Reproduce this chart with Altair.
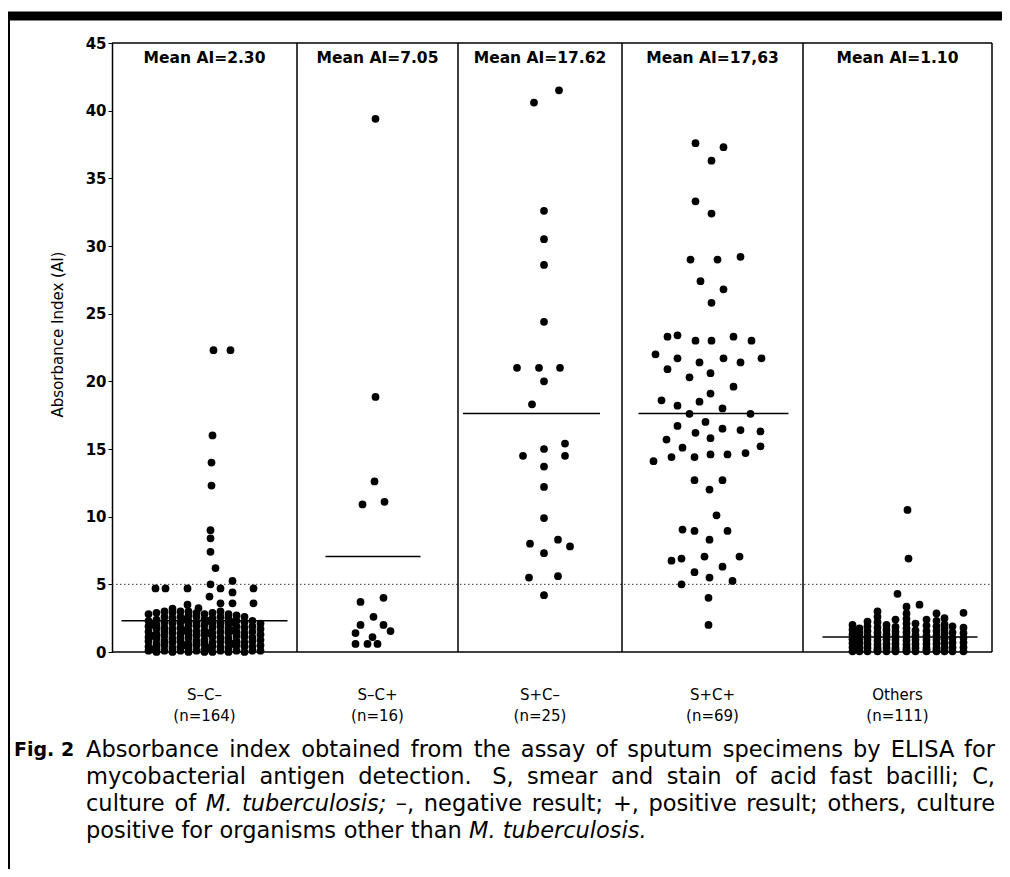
import altair as alt
import pandas as pd

W, H = 880, 609

# ---------------- data ----------------
GROUPS = ["S–C–", "S–C+", "S+C–", "S+C+", "Others"]
N_LABELS = ["(n=164)", "(n=16)", "(n=25)", "(n=69)", "(n=111)"]
MEAN_VALUES = [2.30, 7.05, 17.62, 17.63, 1.10]
MEAN_LABELS = ["Mean AI=2.30", "Mean AI=7.05", "Mean AI=17.62", "Mean AI=17,63", "Mean AI=1.10"]
PANEL_EDGES = [0, 185, 346, 510, 691, 880]
MEAN_SPAN_LEFT = [-83, -52, -77, -74, -75]
MEAN_SPAN_RIGHT = [83, 43, 60, 76, 80]
Y_TICKS = [0, 5, 10, 15, 20, 25, 30, 35, 40, 45]
CUTOFF = [5]
FRAME_VALUES = [0, 45]

# S-C- : scattered points above the dense block
smn_values = [22.3, 22.3, 16.0, 14.0, 12.3, 9.0, 8.4, 7.4, 6.2, 5.0, 5.25, 4.7, 4.7, 4.7, 4.7, 4.7,
              4.1, 4.4, 3.6, 3.6, 3.6, 3.5, 3.25]
smn_jitter = [9, 26, 8, 7, 7, 6, 6, 6, 11, 6, 28, -49, -39, -17, 16, 49,
              5, 28, 16, 28, 49, -17, -6]
# S-C- : dense block, stacked by column (jitter -> values)
smn_block = {
    -56: [0.1, 0.4, 0.8, 1.1, 1.5, 1.9, 2.3, 2.8],
    -52: [0.2, 1.2, 2.0],
    -48: [0.0, 0.3, 0.6, 1.0, 1.3, 1.7, 2.0, 2.4, 2.9],
    -40: [0.1, 0.5, 0.8, 1.2, 1.5, 1.8, 2.2, 2.6, 3.0],
    -32: [0.0, 0.3, 0.7, 1.0, 1.4, 1.7, 2.1, 2.5, 2.9, 3.2],
    -24: [0.1, 0.4, 0.8, 1.1, 1.4, 1.8, 2.2, 2.6, 3.0],
    -20: [0.5, 1.6, 2.4],
    -16: [0.0, 0.3, 0.6, 1.0, 1.3, 1.6, 2.0, 2.3, 2.7, 3.0],
    -8: [0.1, 0.5, 0.8, 1.2, 1.5, 1.9, 2.2, 2.6, 2.9],
    0: [0.0, 0.2, 0.6, 0.9, 1.3, 1.6, 2.0, 2.4, 2.8],
    4: [0.3, 1.4, 2.3],
    8: [0.0, 0.4, 0.7, 1.1, 1.4, 1.8, 2.1, 2.5, 2.9],
    16: [0.1, 0.4, 0.8, 1.1, 1.5, 1.9, 2.2, 2.6, 3.0],
    24: [0.0, 0.3, 0.7, 1.0, 1.4, 1.7, 2.1, 2.5, 2.8],
    28: [0.6, 1.6, 2.2],
    32: [0.1, 0.5, 0.8, 1.2, 1.5, 1.9, 2.3, 2.7],
    40: [0.0, 0.4, 0.7, 1.1, 1.4, 1.8, 2.2, 2.6],
    48: [0.1, 0.4, 0.8, 1.1, 1.5, 1.9, 2.3],
    56: [0.1, 0.5, 0.9, 1.3, 1.7, 2.1],
}

smp_values = [39.4, 18.85, 12.6, 10.9, 11.1, 4.0, 3.7, 2.6, 2.0, 2.0, 1.55, 1.4, 1.1, 0.6, 0.6, 0.6]
smp_jitter = [-2, -2, -3, -15, 7, 6, -17, -4, -17, 6, 13, -22, -5, -22, -10, 0]

spn_values = [41.5, 40.6, 32.6, 30.5, 28.6, 24.4, 21.0, 21.0, 21.0, 20.0, 18.3, 15.4, 15.0,
              14.5, 14.5, 13.7, 12.2, 9.9, 8.3, 8.0, 7.8, 7.3, 5.5, 5.6, 4.2]
spn_jitter = [19, -6, 4, 4, 4, 4, -23, -1, 20, 4, -8, 25, 4,
              -17, 25, 4, 4, 4, 18, -10, 30, 4, -11, 18, 4]

spp_values = [37.6, 37.3, 36.3, 33.3, 32.4, 29.0, 29.0, 29.2, 27.4, 26.8, 25.8,
              23.3, 23.4, 23.0, 23.0, 23.3, 23.0,
              22.0, 21.7, 21.4, 21.7, 21.4, 21.7,
              20.9, 20.3, 20.6, 19.6, 19.1,
              18.6, 18.2, 18.5, 18.0, 17.6, 17.6, 17.0,
              16.7, 16.5, 16.4, 16.3, 16.2, 15.7, 15.8, 15.1, 15.2,
              14.1, 14.4, 14.4, 14.6, 14.6, 14.7,
              12.7, 12.7, 12.0, 10.1, 9.05, 8.95, 8.95, 8.3,
              6.75, 6.9, 7.05, 7.05, 5.9, 6.3, 5.5, 5.25, 5.0, 4.0, 2.0]
spp_jitter = [-17, 11, -1, -17, -1, -22, 5, 28, -12, 11, -1,
              -45, -35, -17, -1, 21, 39,
              -57, -35, -13, 11, 28, 49,
              -45, -23, -2, 21, -2,
              -51, -35, -13, 10, -23, 38, -7,
              -35, 10, 28, 48, -17, -46, -2, -30, 48,
              -59, -41, -18, -2, 15, 33,
              -18, 10, -3, 4, -30, -18, 15, -3,
              -41, -31, -8, 27, -18, 10, -3, 20, -31, -4, -4]

oth_values = [10.5, 6.9, 4.3, 3.5]
oth_jitter = [10, 11, 0, 22]
oth_block = {
    -45: [0.05, 0.35, 0.65, 0.95, 1.3, 1.65, 2.0],
    -38: [0.05, 0.35, 0.7, 1.05, 1.4, 1.75],
    -30: [0.05, 0.3, 0.6, 0.9, 1.2, 1.55, 1.9, 2.25],
    -20: [0.05, 0.15, 0.3, 0.55, 0.85, 1.15, 1.45, 1.8, 2.2, 2.6, 3.0],
    -11: [0.05, 0.3, 0.6, 0.95, 1.3, 1.65, 2.0],
    -2: [0.05, 0.15, 0.3, 0.6, 0.9, 1.2, 1.5, 1.85, 2.4],
    9: [0.05, 0.15, 0.3, 0.55, 0.85, 1.15, 1.45, 1.75, 2.1, 2.45, 2.85, 3.35],
    18: [0.05, 0.3, 0.6, 0.9, 1.25, 1.6, 2.1],
    29: [0.05, 0.15, 0.3, 0.6, 0.9, 1.2, 1.55, 1.95, 2.4],
    39: [0.05, 0.15, 0.3, 0.6, 0.9, 1.2, 1.55, 1.9, 2.3, 2.85],
    47: [0.05, 0.3, 0.65, 1.0, 1.35, 1.7, 2.05, 2.5],
    55: [0.05, 0.35, 0.7, 1.05, 1.45, 1.9],
    66: [0.05, 0.35, 0.7, 1.05, 1.4, 1.8, 2.9],
}

CAPTION_LINES = [
    [("Absorbance", 0), ("index", 0), ("obtained", 0), ("from", 0), ("the", 0), ("assay", 0), ("of", 0),
     ("sputum", 0), ("specimens", 0), ("by", 0), ("ELISA", 0), ("for", 0)],
    [("mycobacterial", 0), ("antigen", 0), ("detection. ", 0), ("S,", 0), ("smear", 0), ("and", 0),
     ("stain", 0), ("of", 0), ("acid", 0), ("fast", 0), ("bacilli;", 0), ("C,", 0)],
    [("culture", 0), ("of", 0), ("M.", 1), ("tuberculosis;", 1), ("–,", 0), ("negative", 0), ("result;", 0),
     ("+,", 0), ("positive", 0), ("result;", 0), ("others,", 0), ("culture", 0)],
    [("positive", 0), ("for", 0), ("organisms", 0), ("other", 0), ("than", 0), ("M.", 1), ("tuberculosis.", 1)],
]
CAPTION_JUSTIFIED = [True, True, True, False]
FIG_LABEL = "Fig. 2"

# ---------------- build tables ----------------
centers = [(PANEL_EDGES[i] + PANEL_EDGES[i + 1]) / 2 for i in range(5)]
rows = []


def add(gi, jit, vals):
    for j, v in zip(jit, vals):
        rows.append({"group": GROUPS[gi], "x": centers[gi] + j, "value": v})


add(0, smn_jitter, smn_values)
for j, vals in smn_block.items():
    add(0, [j] * len(vals), vals)
add(1, smp_jitter, smp_values)
add(2, spn_jitter, spn_values)
add(3, spp_jitter, spp_values)
add(4, oth_jitter, oth_values)
for j, vals in oth_block.items():
    add(4, [j] * len(vals), vals)
points = pd.DataFrame(rows)

means = pd.DataFrame({
    "group": GROUPS,
    "x1": [c + l for c, l in zip(centers, MEAN_SPAN_LEFT)],
    "x2": [c + r for c, r in zip(centers, MEAN_SPAN_RIGHT)],
    "value": MEAN_VALUES,
    "label": MEAN_LABELS,
    "xc": centers,
    "n": N_LABELS,
})
cutoff = pd.DataFrame({"x1": [PANEL_EDGES[0]], "x2": [PANEL_EDGES[-1]], "value": CUTOFF})
edges = pd.DataFrame({"edge": PANEL_EDGES[1:]})
frame_h = pd.DataFrame({"x1": [PANEL_EDGES[0]] * len(FRAME_VALUES),
                        "x2": [PANEL_EDGES[-1]] * len(FRAME_VALUES),
                        "value": FRAME_VALUES})

# caption word layout (DejaVu Sans advance widths, em units)
DV = {' ': .318, 'a': .613, 'b': .635, 'c': .550, 'd': .635, 'e': .615, 'f': .352, 'g': .635,
      'h': .634, 'i': .278, 'j': .278, 'k': .579, 'l': .278, 'm': .974, 'n': .634, 'o': .612,
      'p': .635, 'q': .635, 'r': .411, 's': .521, 't': .392, 'u': .634, 'v': .592, 'w': .818,
      'x': .592, 'y': .592, 'z': .525, 'A': .684, 'C': .698, 'E': .632, 'I': .295, 'L': .557,
      'M': .863, 'S': .635, '.': .318, ',': .318, ';': .337, '–': .5, '+': .838}
CAP_FS = 22.5
CAP_X0, CAP_X1 = -26, 883
CAP_Y0, CAP_DY = 707, 27


def tw(s):
    return sum(DV.get(ch, 0.6) for ch in s) * CAP_FS


cap_rows = []
for li, (words, just) in enumerate(zip(CAPTION_LINES, CAPTION_JUSTIFIED)):
    y = CAP_Y0 + li * CAP_DY
    widths = [tw(w) for w, _ in words]
    if just:
        gap = (CAP_X1 - CAP_X0 - sum(widths)) / (len(words) - 1)
    else:
        gap = tw(" ")
    x = CAP_X0
    for k, ((w, it), wd) in enumerate(zip(words, widths)):
        last = just and k == len(words) - 1
        cap_rows.append({"word": w.strip(), "px": CAP_X1 if last else x, "py": y,
                         "style": "italic" if it else "normal", "right": last})
        x += wd + gap
caption = pd.DataFrame(cap_rows)
fig_df = pd.DataFrame({"word": [FIG_LABEL], "px": [-98], "py": [CAP_Y0]})

# ---------------- chart ----------------
XS = alt.Scale(domain=[PANEL_EDGES[0], PANEL_EDGES[-1]], nice=False, zero=False)
YS = alt.Scale(domain=[0, 45], nice=False)
Y_AXIS = alt.Axis(values=Y_TICKS, title="Absorbance Index (AI)", grid=False,
                  domainColor="black", domainWidth=1.5, tickColor="black", tickSize=4,
                  labelFont="DejaVu Sans", labelFontWeight="bold", labelFontSize=15,
                  labelColor="black", labelPadding=2,
                  titleFont="DejaVu Sans", titleFontWeight="normal", titleFontSize=15,
                  titleColor="black", titleX=-55, titleY=291, titleAngle=270,
                  titleAlign="center", titleBaseline="middle")


def xq(f):
    return alt.X(f, type="quantitative", scale=XS, axis=None)


def yq():
    return alt.Y("value:Q", scale=YS, axis=Y_AXIS)


dots = alt.Chart(points).mark_circle(size=60, color="black", opacity=1).encode(x=xq("x"), y=yq())

mean_lines = alt.Chart(means).mark_rule(color="black", strokeWidth=1.5).encode(
    x=xq("x1"), x2="x2", y=yq())

cut_line = alt.Chart(cutoff).mark_rule(color="#333333", strokeWidth=1, strokeDash=[1.5, 2.5]).encode(
    x=xq("x1"), x2="x2", y=yq())

hframe = alt.Chart(frame_h).mark_rule(color="black", strokeWidth=1.5).encode(
    x=xq("x1"), x2="x2", y=yq())

dividers = alt.Chart(edges).mark_rule(color="black", strokeWidth=1.5).encode(
    x=xq("edge"), y=alt.value(0), y2=alt.value(H))

mean_text = alt.Chart(means).mark_text(font="DejaVu Sans", fontWeight="bold", fontSize=15.5,
                                       color="black", baseline="middle").encode(
    x=xq("xc"), y=alt.value(15), text="label:N")

cat_text = alt.Chart(means).mark_text(font="DejaVu Sans", fontSize=15, color="black",
                                      baseline="middle").encode(
    x=xq("xc"), y=alt.value(H + 43), text="group:N")

n_text = alt.Chart(means).mark_text(font="DejaVu Sans", fontSize=15, color="black",
                                    baseline="middle").encode(
    x=xq("xc"), y=alt.value(H + 64), text="n:N")

cap_enc = dict(x=alt.X("px:Q", scale=None), y=alt.Y("py:Q", scale=None), text="word:N")
cap_left_n = alt.Chart(caption).mark_text(font="DejaVu Sans", fontSize=CAP_FS, color="black",
                                          baseline="middle", align="left").transform_filter(
    "!datum.right && datum.style == 'normal'").encode(**cap_enc)
cap_left_i = alt.Chart(caption).mark_text(font="DejaVu Sans", fontSize=CAP_FS, color="black",
                                          baseline="middle", align="left", fontStyle="italic").transform_filter(
    "!datum.right && datum.style == 'italic'").encode(**cap_enc)
cap_right = alt.Chart(caption).mark_text(font="DejaVu Sans", fontSize=CAP_FS, color="black",
                                         baseline="middle", align="right").transform_filter(
    "datum.right").encode(**cap_enc)
fig_text = alt.Chart(fig_df).mark_text(font="DejaVu Sans", fontSize=19, fontWeight="bold",
                                       color="black", baseline="middle", align="left").encode(**cap_enc)

top_bar = alt.Chart(edges.head(1)).mark_rule(color="black", strokeWidth=9).encode(
    x=alt.value(-104), x2=alt.value(W + 12), y=alt.value(-27))
left_line = alt.Chart(edges.head(1)).mark_rule(color="black", strokeWidth=2).encode(
    x=alt.value(-103), y=alt.value(-24), y2=alt.value(H + 230))

chart = alt.layer(
    cut_line, hframe, dividers, mean_lines, dots, mean_text, cat_text, n_text,
    cap_left_n, cap_left_i, cap_right, fig_text, top_bar, left_line
).properties(
    width=W, height=H,
    padding={"left": 104, "top": 35, "right": 10, "bottom": 217},
    autosize=alt.AutoSizeParams(type="none"),
    background="white",
).configure_view(stroke=None)

chart.save("out.html", embed_options={"renderer": "svg", "actions": False})
